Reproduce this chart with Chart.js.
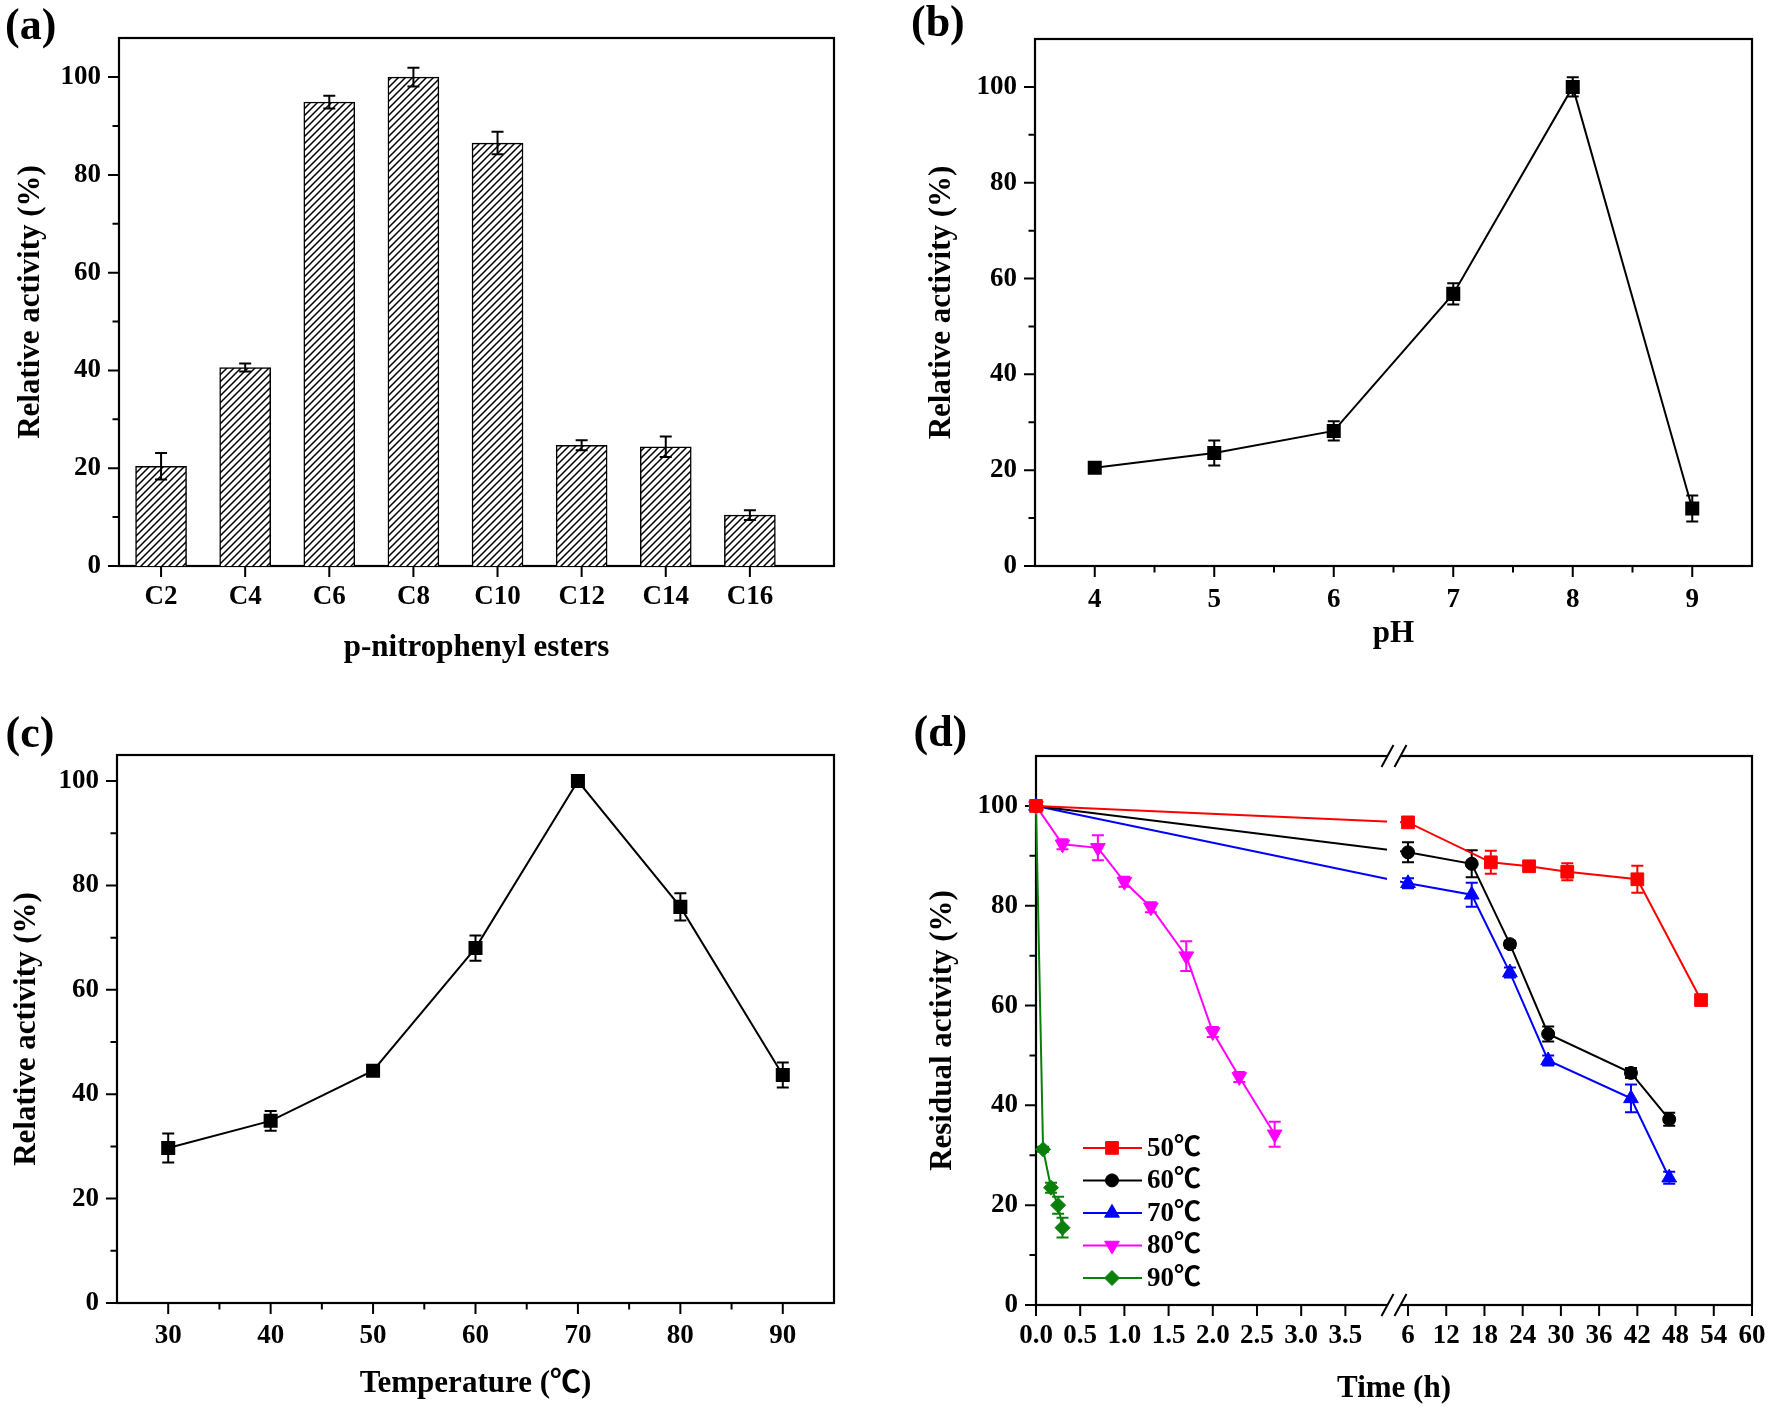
<!DOCTYPE html>
<html>
<head>
<meta charset="utf-8">
<script src="https://cdn.jsdelivr.net/npm/chart.js@4.4.1/dist/chart.umd.min.js"></script>
<style>
html,body{margin:0;padding:0;background:#fff;}
#wrap{position:relative;width:1770px;height:1412px;background:#fff;overflow:hidden;}
#wrap canvas{position:absolute;}
</style>
</head>
<body>
<div id="wrap">
<canvas id="ca" width="885" height="706" style="left:0px;top:0px;width:885px;height:706px"></canvas>
<canvas id="cb" width="885" height="706" style="left:885px;top:0px;width:885px;height:706px"></canvas>
<canvas id="cc" width="885" height="706" style="left:0px;top:706px;width:885px;height:706px"></canvas>
<canvas id="cd" width="885" height="706" style="left:885px;top:706px;width:885px;height:706px"></canvas>
</div>
<script>
// ---------------- DATA ----------------
// (a) substrate specificity
const categoriesA = ['C2','C4','C6','C8','C10','C12','C14','C16'];
const valuesA = [20.4, 40.6, 94.9, 100, 86.5, 24.7, 24.4, 10.4];
const errorsA = [2.7, 0.8, 1.3, 1.9, 2.3, 1.0, 2.1, 1.0];
const yTicksA = [0, 20, 40, 60, 80, 100];
const yMinorA = [10, 30, 50, 70, 90];

// (b) pH
const phB = [4, 5, 6, 7, 8, 9];
const valuesB = [20.5, 23.6, 28.2, 56.8, 100, 12.0];
const errorsB = [0.8, 2.6, 2.0, 2.2, 2.0, 2.7];
const xTicksB = [4, 5, 6, 7, 8, 9];
const xMinorB = [4.5, 5.5, 6.5, 7.5, 8.5];
const yTicksB = [0, 20, 40, 60, 80, 100];
const yMinorB = [10, 30, 50, 70, 90];

// (c) temperature
const tempC = [30, 40, 50, 60, 70, 80, 90];
const valuesC = [29.7, 34.9, 44.5, 68.0, 100, 75.9, 43.7];
const errorsC = [2.8, 1.9, 0.7, 2.4, 0.7, 2.6, 2.4];
const xTicksC = [30, 40, 50, 60, 70, 80, 90];
const xMinorC = [35, 45, 55, 65, 75, 85];
const yTicksC = [0, 20, 40, 60, 80, 100];
const yMinorC = [10, 30, 50, 70, 90];

// (d) thermostability
const labelsD = ['50℃', '60℃', '70℃', '80℃', '90℃'];
const time50 = [0, 6, 19, 25, 31, 42, 52];
const act50  = [100, 96.7, 88.7, 87.9, 86.8, 85.3, 61.1];
const err50  = [0.5, 0.8, 2.3, 0.6, 1.7, 2.7, 0.9];
const time60 = [0, 6, 16, 22, 28, 41, 47];
const act60  = [100, 90.7, 88.4, 72.3, 54.3, 46.5, 37.2];
const err60  = [0.5, 2.0, 2.7, 0.7, 1.5, 1.0, 1.3];
const time70 = [0, 6, 16, 22, 28, 41, 47];
const act70  = [100, 84.5, 82.2, 66.6, 49.0, 41.4, 25.5];
const err70  = [0.8, 1.0, 2.4, 1.0, 1.0, 2.8, 1.2];
const time80 = [0, 0.3, 0.7, 1.0, 1.3, 1.7, 2.0, 2.3, 2.7];
const act80  = [100, 92.3, 91.6, 84.8, 79.7, 69.9, 54.7, 45.7, 34.2];
const err80  = [0.5, 1.0, 2.5, 1.0, 1.0, 3.0, 1.0, 1.0, 2.5];
const time90 = [0, 0.08, 0.17, 0.25, 0.3];
const act90  = [100, 31.2, 23.5, 20.0, 15.5];
const err90  = [0.5, 0.5, 1.0, 1.7, 2.0];
const xTicksD = [0, 0.5, 1.0, 1.5, 2.0, 2.5, 3.0, 3.5, 6, 12, 18, 24, 30, 36, 42, 48, 54, 60];
const yTicksD = [0, 20, 40, 60, 80, 100];
const yMinorD = [10, 30, 50, 70, 90];
// broken time axis: two segments, each half of the axis width
const segmentsD = [{min: 0, max: 4.05, frac: 0.5}, {min: 3.8, max: 60, frac: 0.5}];

// ---------------- STYLE ----------------
const FONT = '"Liberation Serif", "Times New Roman", "Noto Sans CJK SC", serif';
Chart.defaults.font.family = FONT;
Chart.defaults.font.weight = 'bold';
Chart.defaults.color = '#000';
const TICK_SIZE = 27;

const stylesD = [
  {color: '#ff0000', style: 'rect', r: 9, rot: 0},
  {color: '#000000', style: 'circle', r: 6.5, rot: 0},
  {color: '#0000ff', style: 'triangle', r: 8.5, rot: 0},
  {color: '#ff00ff', style: 'triangle', r: 8.5, rot: 180},
  {color: '#0a800a', style: 'rectRot', r: 7.5, rot: 0}
];

// broken linear scale (two linear segments side by side)
class BrokenLinearScale extends Chart.LinearScale {
  _segs() { return this.options.segments || segmentsD; }
  getPixelForValue(value) {
    const segs = this._segs();
    let acc = 0;
    for (let i = 0; i < segs.length; i++) {
      const s = segs[i];
      if (value <= s.max || i === segs.length - 1) {
        const f = acc + s.frac * (value - s.min) / (s.max - s.min);
        return this.left + this.width * f;
      }
      acc += s.frac;
    }
  }
  getValueForPixel(pixel) {
    const segs = this._segs();
    const f = (pixel - this.left) / this.width;
    let acc = 0;
    for (let i = 0; i < segs.length; i++) {
      const s = segs[i];
      if (f <= acc + s.frac || i === segs.length - 1) {
        return s.min + (f - acc) / s.frac * (s.max - s.min);
      }
      acc += s.frac;
    }
  }
}
BrokenLinearScale.id = 'brokenLinear';
BrokenLinearScale.defaults = {};
Chart.register(BrokenLinearScale);

// hatch pattern for bars
function hatchPattern() {
  const s = 7;
  const c = document.createElement('canvas');
  c.width = s; c.height = s;
  const g = c.getContext('2d');
  g.fillStyle = '#fff'; g.fillRect(0, 0, s, s);
  g.strokeStyle = '#000'; g.lineWidth = 1.5;
  g.beginPath();
  g.moveTo(0, s); g.lineTo(s, 0);
  g.moveTo(-s / 2, s / 2); g.lineTo(s / 2, -s / 2);
  g.moveTo(s / 2, s * 1.5); g.lineTo(s * 1.5, s / 2);
  g.stroke();
  return document.createElement('canvas').getContext('2d').createPattern(c, 'repeat');
}

// ---------------- PLUGINS ----------------
function drawErrors(chart) {
  const ctx = chart.ctx, ys = chart.scales.y;
  chart.data.datasets.forEach((ds, di) => {
    if (!ds.errors) return;
    const meta = chart.getDatasetMeta(di);
    ctx.save();
    ctx.strokeStyle = ds.errorColor || ds.borderColor;
    ctx.lineWidth = 2;
    const c = ds.capHalf || 6;
    meta.data.forEach((el, i) => {
      const e = ds.errors[i];
      if (!e) return;
      const v = ds.data[i].y;
      const x = el.x;
      const y1 = ys.getPixelForValue(v + e), y2 = ys.getPixelForValue(v - e);
      ctx.beginPath();
      ctx.moveTo(x, y1); ctx.lineTo(x, y2);
      ctx.moveTo(x - c, y1); ctx.lineTo(x + c, y1);
      ctx.moveTo(x - c, y2); ctx.lineTo(x + c, y2);
      ctx.stroke();
    });
    ctx.restore();
  });
}
const errPlugin = {
  id: 'errbars',
  beforeDatasetsDraw(chart, args, o) { if (!o.after) drawErrors(chart); },
  afterDatasetsDraw(chart, args, o) { if (o.after) drawErrors(chart); }
};

const framePlugin = {
  id: 'frame',
  beforeDatasetsDraw(chart, args, o) {
    const ctx = chart.ctx, a = chart.chartArea;
    const xs = chart.scales.x, ys = chart.scales.y;
    ctx.save();
    ctx.strokeStyle = '#000';
    ctx.lineWidth = 2.2;
    ctx.strokeRect(a.left, a.top, a.right - a.left, a.bottom - a.top);
    ctx.lineWidth = 2;
    ctx.beginPath();
    (o.yMajor || []).forEach(v => { const p = ys.getPixelForValue(v); ctx.moveTo(a.left, p); ctx.lineTo(a.left - 11, p); });
    (o.yMinor || []).forEach(v => { const p = ys.getPixelForValue(v); ctx.moveTo(a.left, p); ctx.lineTo(a.left - 6.5, p); });
    (o.xMajor || []).forEach(v => { const p = xs.getPixelForValue(v); ctx.moveTo(p, a.bottom); ctx.lineTo(p, a.bottom + 11); });
    (o.xMinor || []).forEach(v => { const p = xs.getPixelForValue(v); ctx.moveTo(p, a.bottom); ctx.lineTo(p, a.bottom + 6.5); });
    ctx.stroke();
    ctx.fillStyle = '#000';
    ctx.font = 'bold 44px ' + FONT;
    ctx.textAlign = 'left';
    ctx.textBaseline = 'middle';
    ctx.fillText(o.label, o.lx, o.ly);
    ctx.restore();
  },
  afterDatasetsDraw(chart, args, o) {
    const ctx = chart.ctx, a = chart.chartArea, xs = chart.scales.x;
    if (o.brk) {
      const bx = xs.getPixelForValue(o.brk);
      ctx.save();
      ctx.fillStyle = '#fff';
      ctx.fillRect(bx - 7, a.top + 2, 13, a.bottom - a.top - 4);
      [a.top, a.bottom].forEach(y => {
        ctx.fillStyle = '#fff';
        ctx.beginPath();
        ctx.moveTo(bx - 12, y + 11); ctx.lineTo(bx, y - 11);
        ctx.lineTo(bx + 12, y - 11); ctx.lineTo(bx, y + 11);
        ctx.closePath(); ctx.fill();
        ctx.strokeStyle = '#000'; ctx.lineWidth = 2;
        ctx.beginPath();
        ctx.moveTo(bx - 12.5, y + 11); ctx.lineTo(bx - 0.5, y - 11);
        ctx.moveTo(bx + 0.5, y + 11); ctx.lineTo(bx + 12.5, y - 11);
        ctx.stroke();
      });
      ctx.restore();
    }
    if (o.legend) {
      const L = o.legend;
      ctx.save();
      chart.data.datasets.forEach((ds, i) => {
        const y = L.rows[i];
        ctx.strokeStyle = ds.borderColor; ctx.lineWidth = 2;
        ctx.beginPath(); ctx.moveTo(L.x1, y); ctx.lineTo(L.x2, y); ctx.stroke();
        ctx.fillStyle = ds.pointBackgroundColor; ctx.strokeStyle = ds.pointBorderColor; ctx.lineWidth = 1;
        Chart.helpers.drawPoint(ctx, {pointStyle: ds.pointStyle, radius: ds.pointRadius, rotation: ds.pointRotation || 0, borderWidth: 1}, L.xm, y);
        ctx.fillStyle = '#000';
        ctx.font = 'bold 27px ' + FONT;
        ctx.textAlign = 'left'; ctx.textBaseline = 'middle';
        ctx.fillText(ds.label, L.xt, y + 1);
      });
      ctx.restore();
    }
  }
};
const PLUGINS = [framePlugin, errPlugin];

// ---------------- HELPERS ----------------
function yAxis(c) {
  return {
    type: 'linear', min: 0, max: c.ymax,
    afterBuildTicks: s => { s.ticks = c.ticks.map(v => ({value: v})); },
    afterFit: s => { s.width = c.w; },
    grid: {display: false, drawTicks: true, tickLength: 11},
    border: {display: false},
    ticks: {padding: 7, color: '#000', font: {size: TICK_SIZE, weight: 'bold'}, callback: v => String(v)},
    title: {display: true, text: c.title, color: '#000', font: {size: 31, weight: 'bold'}, padding: {top: c.tp, bottom: 0}}
  };
}
function xAxis(c) {
  return Object.assign({
    offset: false,
    afterBuildTicks: s => { s.ticks = c.ticks.map(v => ({value: v})); },
    afterFit: s => { s.height = c.h; },
    grid: {display: false, drawTicks: true, tickLength: 11},
    border: {display: false},
    ticks: {padding: c.pad, autoSkip: false, maxRotation: 0, minRotation: 0, color: '#000', font: {size: TICK_SIZE, weight: 'bold'}, callback: c.cb},
    title: {display: true, text: c.title, color: '#000', font: {size: 31, weight: 'bold'}, padding: {top: 0, bottom: c.tb}}
  }, c.extra);
}
function baseOptions(pad, scales, frame, err) {
  return {
    responsive: false, animation: false, devicePixelRatio: 1, events: [],
    layout: {padding: {left: 0, top: pad.top, right: pad.right, bottom: 0}},
    scales: scales,
    plugins: {legend: {display: false}, tooltip: {enabled: false}, frame: frame, errbars: err}
  };
}

// ---------------- (a) ----------------
new Chart(document.getElementById('ca'), {
  type: 'bar',
  plugins: PLUGINS,
  data: {datasets: [{
    data: valuesA.map((v, i) => ({x: i + 1, y: v})),
    errors: errorsA, errorColor: '#000', capHalf: 6,
    backgroundColor: hatchPattern(), borderColor: '#000', borderWidth: 1.5,
    barThickness: 51
  }]},
  options: baseOptions({top: 38, right: 51},
    {
      x: xAxis({ticks: categoriesA.map((c, i) => i + 1), h: 140, pad: 4, tb: 39.4, title: 'p-nitrophenyl esters',
        cb: v => categoriesA[Math.round(v) - 1] || '', extra: {type: 'linear', min: 0.5, max: 9}}),
      y: yAxis({ymax: 108, ticks: yTicksA, w: 119, title: 'Relative activity (%)', tp: 12.4})
    },
    {label: '(a)', lx: 5, ly: 28, yMajor: yTicksA, yMinor: yMinorA, xMajor: categoriesA.map((c, i) => i + 1)},
    {after: true})
});

// ---------------- (b) ----------------
new Chart(document.getElementById('cb'), {
  type: 'line',
  plugins: PLUGINS,
  data: {datasets: [{
    data: phB.map((x, i) => ({x: x, y: valuesB[i]})),
    errors: errorsB, borderColor: '#000', backgroundColor: '#000', borderWidth: 2,
    pointStyle: 'rect', pointRadius: 8.5, pointBackgroundColor: '#000', pointBorderColor: '#000', clip: false, tension: 0
  }]},
  options: baseOptions({top: 39, right: 18},
    {
      x: xAxis({ticks: xTicksB, h: 140, pad: 7, tb: 53.4, title: 'pH', cb: v => String(v), extra: {type: 'linear', min: 3.5, max: 9.5}}),
      y: yAxis({ymax: 110, ticks: yTicksB, w: 150, title: 'Relative activity (%)', tp: 38})
    },
    {label: '(b)', lx: 26, ly: 25, yMajor: yTicksB, yMinor: yMinorB, xMajor: xTicksB, xMinor: xMinorB},
    {after: false})
});

// ---------------- (c) ----------------
new Chart(document.getElementById('cc'), {
  type: 'line',
  plugins: PLUGINS,
  data: {datasets: [{
    data: tempC.map((x, i) => ({x: x, y: valuesC[i]})),
    errors: errorsC, borderColor: '#000', backgroundColor: '#000', borderWidth: 2,
    pointStyle: 'rect', pointRadius: 8.5, pointBackgroundColor: '#000', pointBorderColor: '#000', clip: false, tension: 0
  }]},
  options: baseOptions({top: 49, right: 51},
    {
      x: xAxis({ticks: xTicksC, h: 109, pad: 6, tb: 9.9, title: 'Temperature (℃)', cb: v => String(v), extra: {type: 'linear', min: 25, max: 95}}),
      y: yAxis({ymax: 105, ticks: yTicksC, w: 117, title: 'Relative activity (%)', tp: 8.8})
    },
    {label: '(c)', lx: 5.5, ly: 30, yMajor: yTicksC, yMinor: yMinorC, xMajor: xTicksC, xMinor: xMinorC},
    {after: false})
});

// ---------------- (d) ----------------
const timesD = [time50, time60, time70, time80, time90];
const actsD = [act50, act60, act70, act80, act90];
const errsD = [err50, err60, err70, err80, err90];
new Chart(document.getElementById('cd'), {
  type: 'line',
  plugins: PLUGINS,
  data: {datasets: labelsD.map((lab, k) => ({
    label: lab,
    data: timesD[k].map((t, i) => ({x: t, y: actsD[k][i]})),
    errors: errsD[k],
    borderColor: stylesD[k].color, backgroundColor: stylesD[k].color, borderWidth: 2,
    pointStyle: stylesD[k].style, pointRadius: stylesD[k].r, pointRotation: stylesD[k].rot,
    pointBackgroundColor: stylesD[k].color, pointBorderColor: stylesD[k].color, pointBorderWidth: 1,
    clip: false, tension: 0
  }))},
  options: baseOptions({top: 50, right: 18},
    {
      x: xAxis({ticks: xTicksD, h: 107, pad: 4, tb: 4.4, title: 'Time (h)',
        cb: v => (v < 5 ? Number(v).toFixed(1) : String(v)),
        extra: {type: 'brokenLinear', min: 0, max: 60, segments: segmentsD}}),
      y: yAxis({ymax: 110, ticks: yTicksD, w: 151, title: 'Residual activity (%)', tp: 39.7})
    },
    {label: '(d)', lx: 28.5, ly: 28.7, yMajor: yTicksD, yMinor: yMinorD, xMajor: xTicksD,
     brk: segmentsD[0].max,
     legend: {x1: 198, x2: 257, xm: 227, xt: 262, rows: [441.9, 474.4, 506.9, 539.5, 572]}},
    {after: false})
});
</script>
</body>
</html>
